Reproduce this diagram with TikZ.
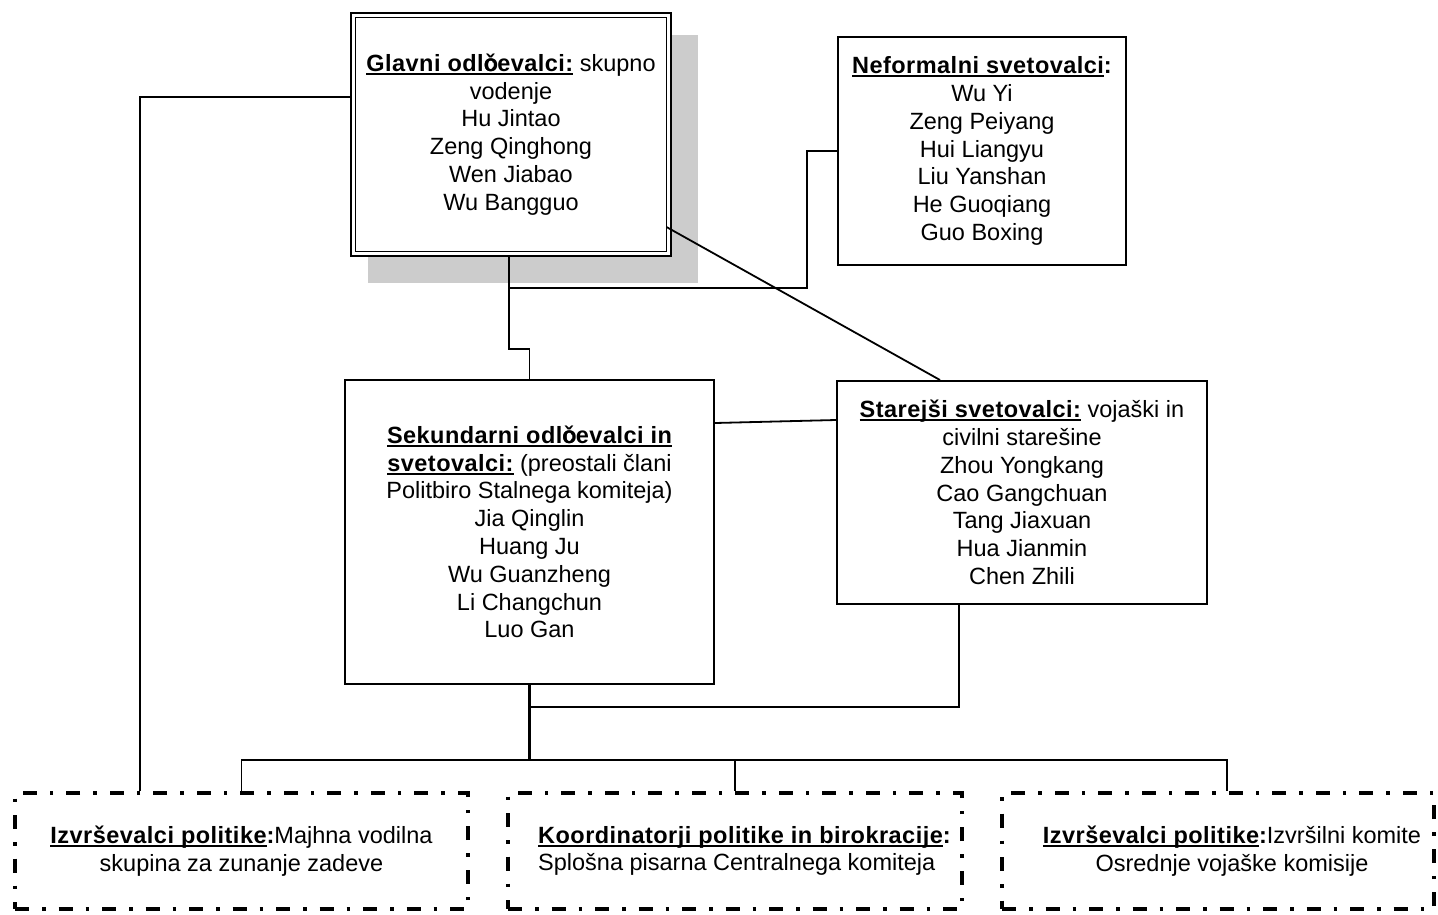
\documentclass[tikz,border=0pt]{standalone}
\usepackage{fontspec}
\setmainfont{Liberation Sans}
\newfontfamily\hdfont{Liberation Sans}[LetterSpace=2]
\usetikzlibrary{calc}
\definecolor{shadowgray}{HTML}{CCCCCC}
% underlined heading text
\newcommand\ulx[1]{\leavevmode\setbox0=\hbox{#1}\rlap{\rule[-3.4pt]{\wd0}{1.8pt}}\box0}
\newcommand\hd[1]{{\hdfont\bfseries\ulx{#1}}}
\newcommand\hdn[1]{{\hdfont\bfseries #1}}
\newcommand\ovl{\makebox[0pt][l]{o}}
\begin{document}
\begin{tikzpicture}[x=1pt,y=-1pt,
  every node/.style={font=\fontsize{23.5}{27.8}\selectfont},
  plainbox/.style={draw, line width=2pt, fill=white, inner sep=0pt, align=center},
  dashbox/.style={draw, line width=3.5pt, dash pattern=on 14pt off 13pt on 3.5pt off 13pt, inner sep=0pt, align=center},
  conn/.style={line width=1.8pt},
  thickconn/.style={line width=2.8pt}]
\useasboundingbox (0,0) rectangle (1438,914);

% shadow of the top box
\fill[shadowgray] (368,35) rectangle (698,283);

\node[plainbox, double, double distance=3pt, line width=1.6pt, outer sep=3.1pt,
      minimum width=315.8pt, minimum height=238.8pt] (glavni) at (511,134.5)
  {\hd{Glavni odl\ovl čevalci:} skupno\\vodenje\\Hu Jintao\\Zeng Qinghong\\Wen Jiabao\\Wu Bangguo};

\node[plainbox, minimum width=288pt, minimum height=228pt] (neform) at (982,151)
  {\hd{Neformalni svetovalci}\hdn{:}\\Wu Yi\\Zeng Peiyang\\Hui Liangyu\\Liu Yanshan\\He Guoqiang\\Guo Boxing};

\node[plainbox, minimum width=369pt, minimum height=304pt] (sekund) at (529.5,532)
  {\hd{Sekundarni odl\ovl čevalci in}\\\hd{svetovalci:} (preostali člani\\Politbiro Stalnega komiteja)\\Jia Qinglin\\Huang Ju\\Wu Guanzheng\\Li Changchun\\Luo Gan};

\node[plainbox, minimum width=370pt, minimum height=223pt] (starejsi) at (1022,492.5)
  {\hd{Starejši svetovalci:} vojaški in\\civilni starešine\\Zhou Yongkang\\Cao Gangchuan\\Tang Jiaxuan\\Hua Jianmin\\Chen Zhili};

\node[dashbox, minimum width=453pt, minimum height=116pt] (izv1) at (241.5,851)
  {\hd{Izvrševalci politike}\hdn{:}Majhna vodilna\\skupina za zunanje zadeve};

\node[dashbox, minimum width=454pt, minimum height=116pt] (koord) at (735,851) {};
\node[anchor=west, align=left, inner sep=0pt] (koordtxt) at (538,851)
  {\hd{Koordinatorji politike in birokracije}\hdn{:}\\Splošna pisarna Centralnega komiteja};

\node[dashbox, minimum width=432pt, minimum height=116pt] (izv2) at (1218,851) {};
\node[align=center, inner sep=0pt] (izv2txt) at (1232,851)
  {\hd{Izvrševalci politike}\hdn{:}Izvršilni komite\\Osrednje vojaške komisije};

% junction below the top box
\coordinate (ja) at (509,288);

% connectors
\draw[conn] (glavni.south -| ja) -- (ja) -- (ja |- 0,349) -| (sekund.north);
\draw[conn] (ja) -| (neform.west -| 807,0) -- (neform.west);
\draw[conn] ([xshift=-5.5pt]glavni.east |- 0,227) -- (starejsi.north -| 940,0);
\draw[conn] (sekund.east |- 0,423) -- (starejsi.west |- 0,420);
\draw[conn] (starejsi.south -| 959,0) |- (sekund.south |- 0,707);
\draw[conn] (izv1.north -| 140,0) |- (glavni.west |- 0,97);
\draw[conn] (izv1.north) -- (izv1.north |- 0,760) -| (izv2.north -| 1227,0);
\draw[conn] (koord.north |- 0,760) -- (koord.north);
\draw[thickconn] (sekund.south) -- (sekund.south |- 0,760) -- (koord.north |- 0,760);
\end{tikzpicture}
\end{document}
